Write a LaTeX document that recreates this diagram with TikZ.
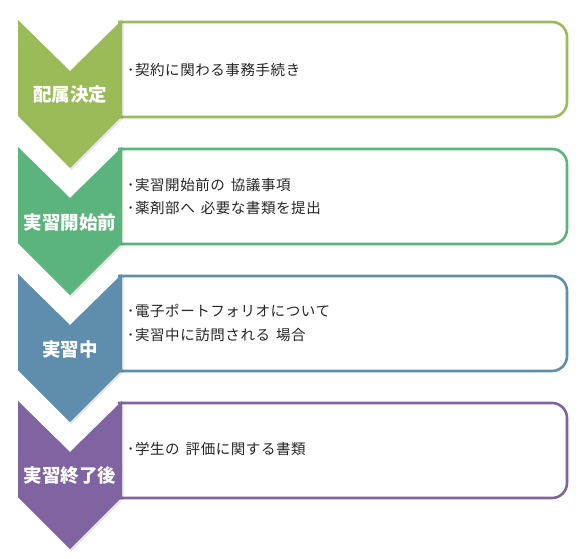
\documentclass[tikz,border=0pt]{standalone}
\usepackage{fontspec}
\newfontfamily\jp{Noto Sans CJK JP}
\newfontfamily\jpsp[LetterSpace=4]{Noto Sans CJK JP}
\definecolor{cA}{HTML}{9BBB59}
\definecolor{cB}{HTML}{5BB47B}
\definecolor{cC}{HTML}{5E8DAD}
\definecolor{cD}{HTML}{8064A2}
\tikzset{
  chev/.style={fill=#1, draw=none},
  shd/.style={fill=black, opacity=0.10, draw=none},
  panel/.style={draw=#1, line width=2.6pt, fill=white, rounded corners=15pt},
  lbl/.style={text=white, font=\jp\bfseries\fontsize{18.5}{22}\selectfont, inner sep=0pt},
  itm/.style={anchor=west, text=black!85, font=\jpsp\fontsize{14.5}{17}\selectfont, inner sep=0pt},
}
\newcommand{\gp}{\hspace{6pt}}
\begin{document}
\begin{tikzpicture}[x=1pt, y=-1pt]
\useasboundingbox (0,0) rectangle (584,559);
% row 1
\draw[panel=cA] (118,22) -- (567,22) -- (567,117) -- (118,117);
\fill[shd] (19.5,22) -- (71.5,73) -- (123.5,22) -- (123.5,118) -- (71.5,170) -- (19.5,118) -- cycle;
\fill[chev=cA] (18,20) -- (70,71) -- (122,20) -- (122,116) -- (70,168) -- (18,116) -- cycle;
\node[lbl] (l1) at (70,95) {配属決定};
\node[itm] (t1) at (127,70) {･契約に関わる事務手続き};
% row 2
\draw[panel=cB] (118,149) -- (567,149) -- (567,244) -- (118,244);
\fill[shd] (19.5,149) -- (71.5,200) -- (123.5,149) -- (123.5,245) -- (71.5,297) -- (19.5,245) -- cycle;
\fill[chev=cB] (18,147) -- (70,198) -- (122,147) -- (122,243) -- (70,295) -- (18,243) -- cycle;
\node[lbl] (l2) at (70,222) {実習開始前};
\node[itm] (t2a) at (127,185) {･実習開始前の\gp 協議事項};
\node[itm] (t2b) at (127,208) {･薬剤部へ\gp 必要な書類を提出};
% row 3
\draw[panel=cC] (118,276) -- (567,276) -- (567,371) -- (118,371);
\fill[shd] (19.5,276) -- (71.5,327) -- (123.5,276) -- (123.5,372) -- (71.5,424) -- (19.5,372) -- cycle;
\fill[chev=cC] (18,274) -- (70,325) -- (122,274) -- (122,370) -- (70,422) -- (18,370) -- cycle;
\node[lbl] (l3) at (70,349) {実習中};
\node[itm] (t3a) at (127,311) {･電子ポートフォリオについて};
\node[itm] (t3b) at (127,335) {･実習中に訪問される\gp 場合};
% row 4
\draw[panel=cD] (118,403) -- (567,403) -- (567,498) -- (118,498);
\fill[shd] (19.5,403) -- (71.5,454) -- (123.5,403) -- (123.5,499) -- (71.5,551) -- (19.5,499) -- cycle;
\fill[chev=cD] (18,401) -- (70,452) -- (122,401) -- (122,497) -- (70,549) -- (18,497) -- cycle;
\node[lbl] (l4) at (70,476) {実習終了後};
\node[itm] (t4) at (127,449) {･学生の\gp 評価に関する書類};
\end{tikzpicture}
\end{document}
